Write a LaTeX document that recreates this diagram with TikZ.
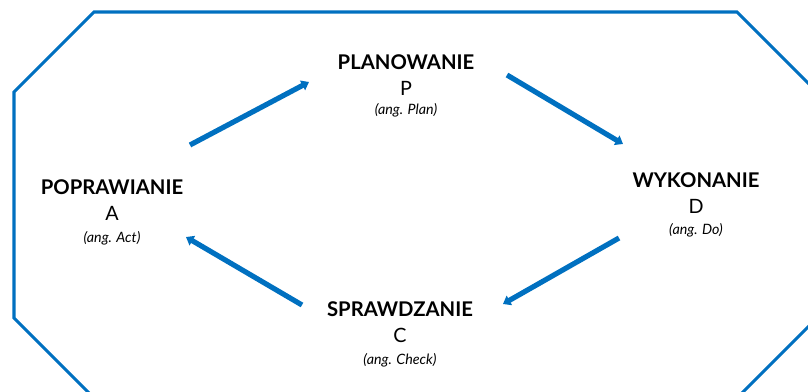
\documentclass[tikz,border=0pt]{standalone}
\usepackage{fontspec}
\setmainfont{Lato}
\usetikzlibrary{arrows.meta}
\definecolor{pdcablue}{RGB}{0,112,192}
\tikzset{
  frame/.style={draw=pdcablue, line width=2.3pt, line join=miter},
  cyc/.style={draw=pdcablue, line width=3.9pt, -{Triangle[width=8pt,length=5.5pt]}, shorten >=0pt},
  ttl/.style={anchor=base, inner sep=0pt, font=\fontsize{15.2}{18}\selectfont\bfseries},
  ltr/.style={anchor=base, inner sep=0pt, font=\fontsize{14.8}{17}\selectfont},
  eng/.style={anchor=base, inner sep=0pt, font=\fontsize{10.7}{12}\selectfont\itshape},
}
\begin{document}
\begin{tikzpicture}[x=0.75pt,y=-0.75pt]
\useasboundingbox (0,0) rectangle (808,392);
\begin{scope}
\clip (0,0) rectangle (808,392);
\draw[frame] (94,12) -- (737,12) -- (817,92) -- (817,318) -- (737,398) -- (94,398) -- (14,318) -- (14,92) -- cycle;
\end{scope}
% PLANOWANIE
\node[ttl] (pT) at (406,69.5) {PLANOWANIE};
\node[ltr] (pL) at (406,96) {P};
\node[eng] (pE) at (406,115) {(ang. Plan)};
% WYKONANIE
\node[ttl] (dT) at (696,188) {WYKONANIE};
\node[ltr] (dL) at (696,214) {D};
\node[eng] (dE) at (696,235) {(ang. Do)};
% SPRAWDZANIE
\node[ttl] (cT) at (400,317) {SPRAWDZANIE};
\node[ltr] (cL) at (400,343) {C};
\node[eng] (cE) at (400,364) {(ang. Check)};
% POPRAWIANIE
\node[ttl] (aT) at (112,195) {POPRAWIANIE};
\node[ltr] (aL) at (112,221) {A};
\node[eng] (aE) at (112,243) {(ang. Act)};
% arrow end points
\coordinate (a1s) at (190,145);
\coordinate (a1e) at (309,82);
\coordinate (a2s) at (507,75);
\coordinate (a2e) at (623,144);
\coordinate (a3s) at (619,238);
\coordinate (a3e) at (503,304);
\coordinate (a4s) at (302,305);
\coordinate (a4e) at (186,237);
\draw[cyc] (a1s) -- (a1e);
\draw[cyc] (a2s) -- (a2e);
\draw[cyc] (a3s) -- (a3e);
\draw[cyc] (a4s) -- (a4e);
\end{tikzpicture}
\end{document}
